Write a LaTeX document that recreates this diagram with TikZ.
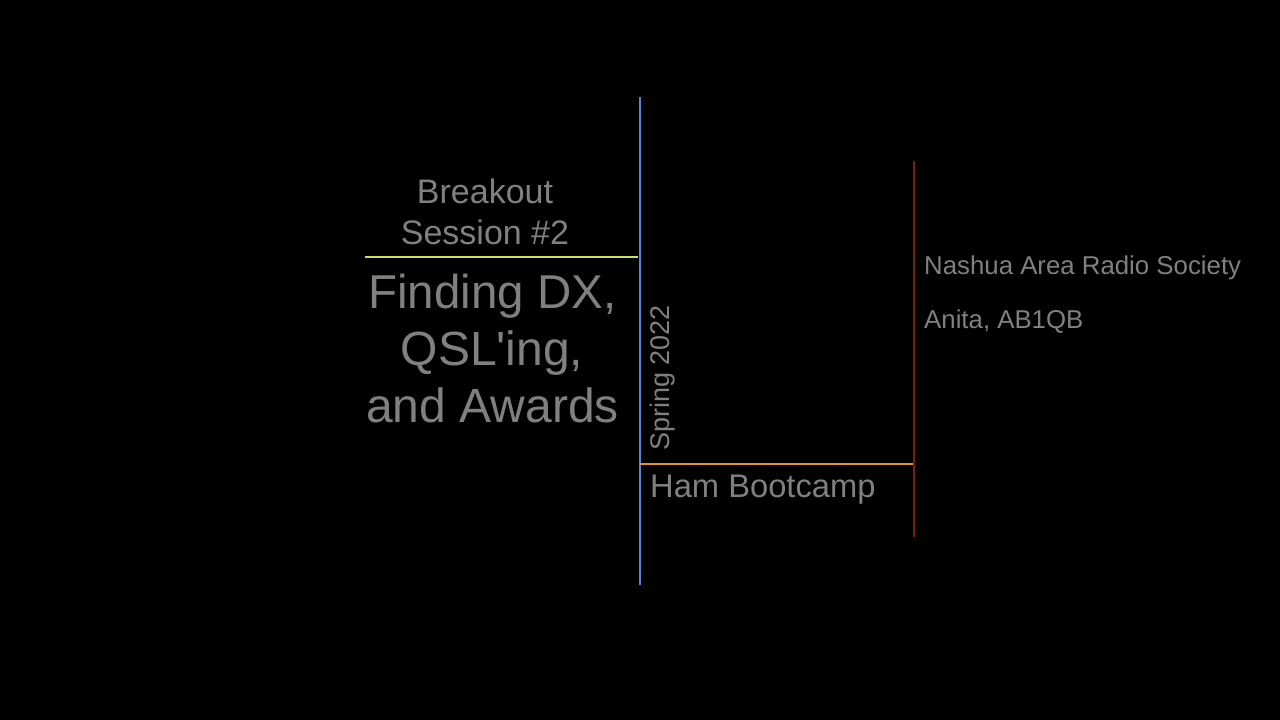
\documentclass[tikz,border=0pt]{standalone}
\usepackage{fontspec}
\setmainfont{Liberation Sans}[Ligatures=TeXOff]
\definecolor{slidegray}{RGB}{128,128,128}
\definecolor{railblue}{RGB}{90,130,215}
\definecolor{ruleyellow}{RGB}{205,225,85}
\definecolor{ruleorange}{RGB}{225,150,40}
\definecolor{railred}{RGB}{120,30,25}
\tikzset{
    slidetext/.style={text=slidegray, inner sep=0pt, font=\fontsize{#1}{#1}\selectfont},
}
\begin{document}
\begin{tikzpicture}[x=1pt,y=-1pt]
    \useasboundingbox[fill=black] (0,0) rectangle (1280,720);

    \coordinate (blueTop) at (639.5,97);
    \coordinate (blueEnd) at (639.5,585);
    \coordinate (redTop) at (913.5,161);
    \coordinate (redEnd) at (913.5,537);
    \coordinate (yellowLeft) at (365,256.5);
    \coordinate (yellowRight) at (638,256.5);
    \coordinate (orangeLeft) at (640,463.5);
    \coordinate (orangeRight) at (913,463.5);

    \draw[draw=railblue, line width=2pt] (blueTop) -- (blueEnd);
    \draw[draw=railred, line width=2pt] (redTop) -- (redEnd);
    \draw[draw=ruleyellow, line width=2pt] (yellowLeft) -- (yellowRight);
    \draw[draw=ruleorange, line width=2pt] (orangeLeft) -- (orangeRight);

    \node[slidetext=34pt] (breakout) at (485,191.5) {Breakout};
    \node[slidetext=34pt] (session) at (485,232) {Session \#2};
    \node[slidetext=47.5pt] (finding) at (492.5,296.5) {Finding DX,};
    \node[slidetext=48pt] (qsl) at (492,353.5) {QSL'ing,};
    \node[slidetext=48pt] (awards) at (492.5,405.5) {and Awards};
    \node[slidetext=27pt, rotate=90] (spring) at (663,378) {Spring 2022};
    \node[slidetext=32.7pt, anchor=west] (bootcamp) at (650,490) {Ham Bootcamp};
    \node[slidetext=25.8pt, anchor=west] (society) at (924,268) {Nashua Area Radio Society};
    \node[slidetext=25.8pt, anchor=west] (anita) at (924,322) {Anita, AB1QB};
\end{tikzpicture}
\end{document}
